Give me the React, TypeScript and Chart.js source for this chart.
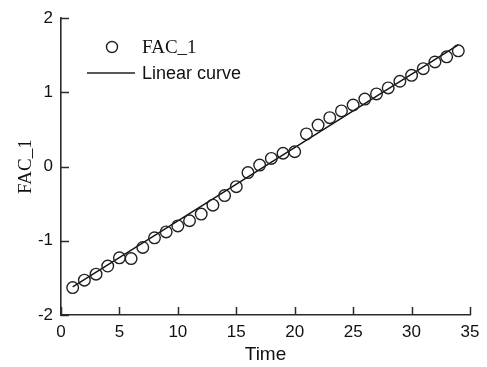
import React, { useEffect, useRef } from "react";
import { Chart, registerables } from "chart.js";

Chart.register(...registerables);

const timeValues = [1,2,3,4,5,6,7,8,9,10,11,12,13,14,15,16,17,18,19,20,21,22,23,24,25,26,27,28,29,30,31,32,33,34];
const facValues = [-1.63,-1.53,-1.45,-1.34,-1.23,-1.24,-1.09,-0.96,-0.88,-0.80,-0.73,-0.64,-0.52,-0.39,-0.27,-0.08,0.02,0.11,0.18,0.20,0.44,0.56,0.66,0.75,0.83,0.91,0.98,1.06,1.15,1.23,1.32,1.41,1.48,1.56];
const fitTime = [1, 34];
const fitValues = [-1.62, 1.64];
const xTicks = [0, 5, 10, 15, 20, 25, 30, 35];
const yTicks = [-2, -1, 0, 1, 2];

const SANS = "'Liberation Sans', Arial, sans-serif";
const SERIF = "'Liberation Serif', 'Times New Roman', serif";
const INK = "#2a2a2a";

const customDraw = {
  id: "customDraw",
  afterDraw(chart: any) {
    const ctx = chart.ctx;
    const xs = chart.scales.x;
    const ys = chart.scales.y;
    const area = chart.chartArea;
    ctx.save();
    ctx.strokeStyle = INK;
    ctx.lineWidth = 1.5;
    // inward ticks
    xTicks.forEach((v) => {
      const px = Math.round(xs.getPixelForValue(v)) + 0.5;
      ctx.beginPath();
      ctx.moveTo(px, area.bottom);
      ctx.lineTo(px, area.bottom - 8);
      ctx.stroke();
    });
    yTicks.forEach((v) => {
      const py = Math.round(ys.getPixelForValue(v)) + 0.5;
      ctx.beginPath();
      ctx.moveTo(area.left, py);
      ctx.lineTo(area.left + 8, py);
      ctx.stroke();
    });
    // axis titles
    ctx.fillStyle = "#111";
    ctx.font = `19px ${SANS}`;
    ctx.textAlign = "center";
    ctx.textBaseline = "middle";
    ctx.fillText("Time", (area.left + area.right) / 2, 355);
    ctx.save();
    ctx.translate(26, (area.top + area.bottom) / 2);
    ctx.rotate(-Math.PI / 2);
    ctx.font = `19px ${SERIF}`;
    ctx.fillText("FAC_1", 0, 0);
    ctx.restore();
    // legend
    ctx.lineWidth = 1.4;
    ctx.strokeStyle = "#222";
    ctx.beginPath();
    ctx.arc(112, 47, 5.5, 0, Math.PI * 2);
    ctx.stroke();
    ctx.beginPath();
    ctx.moveTo(87, 73);
    ctx.lineTo(135, 73);
    ctx.stroke();
    ctx.textAlign = "left";
    ctx.font = `19px ${SERIF}`;
    ctx.fillText("FAC_1", 142, 48);
    ctx.font = `18px ${SANS}`;
    ctx.fillText("Linear curve", 142, 74);
    ctx.restore();
  },
};

export default function App() {
  const ref = useRef<HTMLCanvasElement | null>(null);
  useEffect(() => {
    document.body.style.margin = "0";
    const canvas = ref.current;
    if (!canvas) return;
    const chart = new Chart(canvas, {
      type: "scatter",
      data: {
        datasets: [
          {
            label: "Linear curve",
            type: "line",
            data: fitTime.map((t, i) => ({ x: t, y: fitValues[i] })),
            borderColor: "#111",
            borderWidth: 1.4,
            pointRadius: 0,
            fill: false,
            order: 2,
          } as any,
          {
            label: "FAC_1",
            data: timeValues.map((t, i) => ({ x: t, y: facValues[i] })),
            pointStyle: "circle",
            pointRadius: 5.8,
            pointBorderWidth: 1.4,
            pointBorderColor: "#222",
            pointBackgroundColor: "rgba(0,0,0,0)",
            borderColor: "#222",
            backgroundColor: "rgba(0,0,0,0)",
            order: 1,
          },
        ],
      },
      options: {
        animation: false,
        responsive: false,
        devicePixelRatio: 1,
        layout: { padding: { left: 0, right: 17, top: 15, bottom: 0 } },
        plugins: { legend: { display: false }, tooltip: { enabled: false } },
        scales: {
          x: {
            type: "linear",
            min: 0,
            max: 35,
            afterFit: (s: any) => { s.height = 52; },
            afterBuildTicks: (s: any) => { s.ticks = xTicks.map((v) => ({ value: v })); },
            grid: { display: false, drawTicks: false },
            border: { display: true, color: INK, width: 1.6 },
            ticks: { color: "#111", font: { family: SANS, size: 17 }, padding: 7, maxRotation: 0 },
          },
          y: {
            type: "linear",
            min: -2,
            max: 2,
            afterFit: (s: any) => { s.width = 61; },
            afterBuildTicks: (s: any) => { s.ticks = yTicks.map((v) => ({ value: v })); },
            grid: { display: false, drawTicks: false },
            border: { display: true, color: INK, width: 1.6 },
            ticks: { color: "#111", font: { family: SANS, size: 17 }, padding: 8 },
          },
        },
      },
      plugins: [customDraw],
    });
    return () => chart.destroy();
  }, []);
  return (
    <div style={{ width: 487, height: 367 }}>
      <canvas ref={ref} width={487} height={367} style={{ display: "block", width: 487, height: 367 }} />
    </div>
  );
}
